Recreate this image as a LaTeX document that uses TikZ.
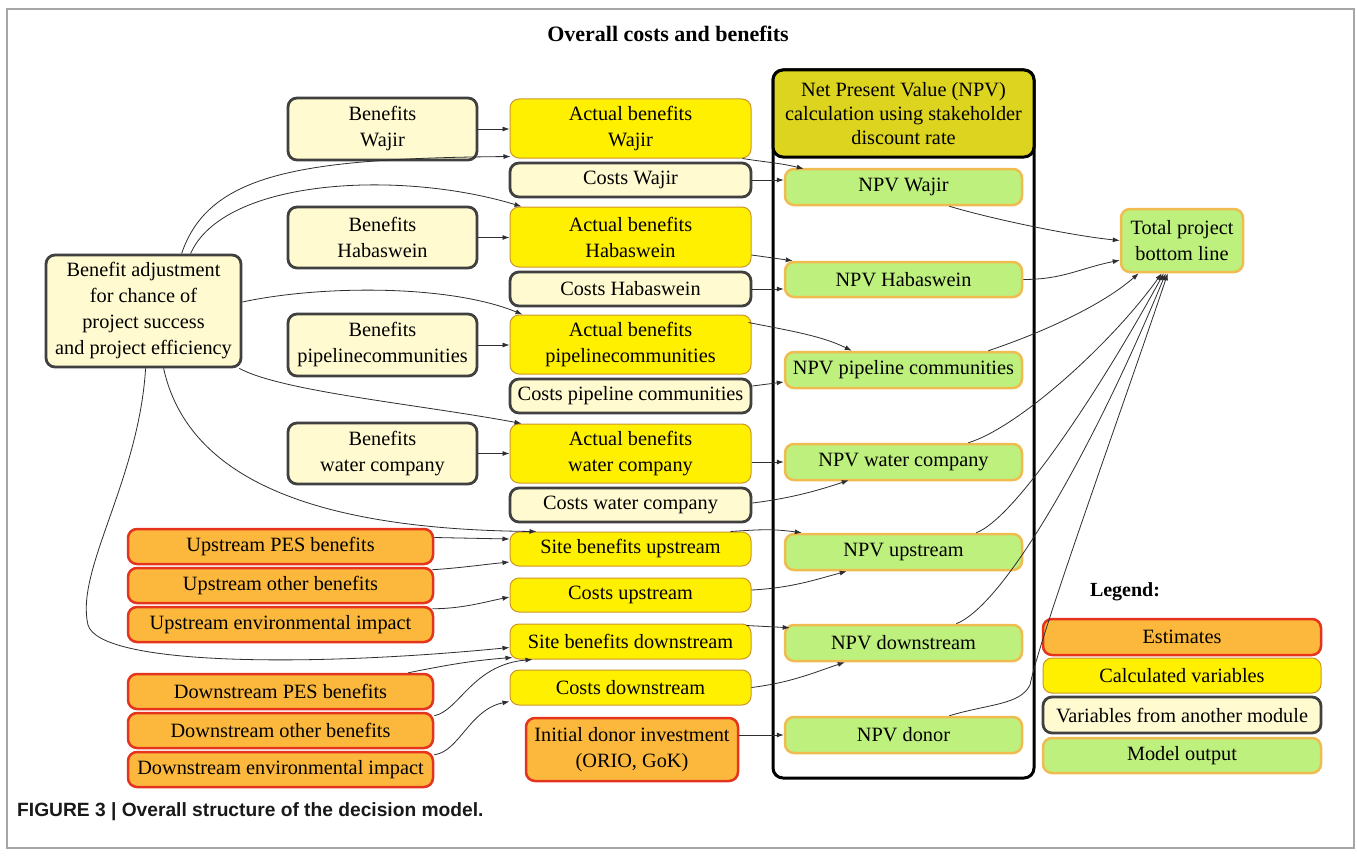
\documentclass[tikz,border=0pt]{standalone}
\usepackage{fontspec}
\setmainfont{Liberation Serif}
\newfontfamily\capfont{Liberation Sans}
\usetikzlibrary{arrows.meta,calc}
\definecolor{estF}{RGB}{252,184,60}
\definecolor{estD}{RGB}{228,52,30}
\definecolor{calcF}{RGB}{255,240,0}
\definecolor{calcD}{RGB}{205,150,40}
\definecolor{modF}{RGB}{255,250,208}
\definecolor{modD}{RGB}{64,64,64}
\definecolor{outF}{RGB}{190,240,125}
\definecolor{outD}{RGB}{240,188,80}
\definecolor{hdrF}{RGB}{220,212,30}
\definecolor{arrC}{RGB}{45,45,50}
\newcommand\bx[7]{\node[#1, minimum width={#5-#3}, minimum height={#6-#4}] (#2) at ({(#3+#5)/2},{(#4+#6)/2}) {#7};}
\begin{document}
\begin{tikzpicture}[x=1pt,y=-1pt,
  base/.style={rectangle, rounded corners=9pt, inner sep=0pt, align=center, font=\fontsize{20.3}{26}\selectfont, text=black},
  est/.style={base, fill=estF, draw=estD, line width=2.5pt},
  calc/.style={base, fill=calcF, draw=calcD, line width=1pt},
  mod/.style={base, fill=modF, draw=modD, line width=2.8pt},
  outp/.style={base, fill=outF, draw=outD, line width=2.5pt},
  hdr/.style={base, fill=hdrF, draw=black, line width=3pt, rounded corners=10pt, font=\fontsize{20.3}{24}\selectfont},
  framebox/.style={rectangle, draw=black, line width=3pt, rounded corners=10pt, inner sep=0pt},
  arr/.style={draw=arrC, line width=0.8pt, -{Latex[length=7pt,width=5pt]}}
]
\useasboundingbox (0,0) rectangle (1357,856);
\fill[white] (0,0) rectangle (1357,856);
\draw[gray!70, line width=1.2pt] (7,9) rectangle (1354,848);

\node[font=\bfseries\fontsize{22}{26}\selectfont] (title) at (668,34) {Overall costs and benefits};

% NPV frame and header
\bx{framebox}{frame}{773}{70}{1034}{778}{}
\bx{hdr}{hdr}{773}{70}{1034}{157}{Net Present Value (NPV)\\calculation using stakeholder\\discount rate}

% column B and C
\bx{mod}{bw}{288}{98}{477}{160}{Benefits\\Wajir}
\bx{calc}{abw}{510}{99}{751}{158}{Actual benefits\\Wajir}
\bx{mod}{cw}{510}{163}{751}{197}{Costs Wajir}
\bx{mod}{bh}{288}{207}{477}{268}{Benefits\\Habaswein}
\bx{calc}{abh}{510}{207}{751}{267}{Actual benefits\\Habaswein}
\bx{mod}{ch}{510}{272}{751}{306}{Costs Habaswein}
\bx{mod}{adj}{46}{255}{241}{367}{Benefit adjustment\\for chance of\\project success\\and project efficiency}
\bx{mod}{bp}{288}{314}{477}{376}{Benefits\\pipelinecommunities}
\bx{calc}{abp}{510}{315}{751}{374}{Actual benefits\\pipelinecommunities}
\bx{mod}{cp}{510}{379}{751}{413}{Costs pipeline communities}
\bx{mod}{bwc}{288}{423}{477}{484}{Benefits\\water company}
\bx{calc}{abwc}{510}{424}{751}{483}{Actual benefits\\water company}
\bx{mod}{cwc}{510}{488}{751}{522}{Costs water company}
\bx{est}{ups}{128}{529}{433}{564}{Upstream PES benefits}
\bx{est}{upo}{128}{568}{433}{603}{Upstream other benefits}
\bx{est}{upe}{128}{607}{433}{642}{Upstream environmental impact}
\bx{calc}{sbu}{510}{532}{751}{566}{Site benefits upstream}
\bx{calc}{cu}{510}{578}{751}{612}{Costs upstream}
\bx{calc}{sbd}{510}{624}{751}{659}{Site benefits downstream}
\bx{est}{dps}{128}{674}{433}{709}{Downstream PES benefits}
\bx{est}{dpo}{128}{713}{433}{748}{Downstream other benefits}
\bx{est}{dpe}{128}{752}{433}{787}{Downstream environmental impact}
\bx{calc}{cd}{510}{670}{751}{705}{Costs downstream}
\bx{est}{don}{526}{718}{738}{781}{Initial donor investment\\(ORIO, GoK)}

% NPV column
\bx{outp}{nw}{785}{169}{1022}{205}{NPV Wajir}
\bx{outp}{nh}{785}{262}{1022}{297}{NPV Habaswein}
\bx{outp}{np}{785}{352}{1022}{388}{NPV pipeline communities}
\bx{outp}{nwc}{785}{444}{1022}{480}{NPV water company}
\bx{outp}{nu}{785}{534}{1022}{570}{NPV upstream}
\bx{outp}{nd}{785}{625}{1022}{661}{NPV downstream}
\bx{outp}{ndon}{785}{717}{1022}{753}{NPV donor}
\bx{outp}{tot}{1121}{209}{1243}{272}{Total project\\bottom line}

% legend
\node[font=\bfseries\fontsize{20}{24}\selectfont] (legt) at (1125,592) {Legend:};
\bx{est}{lest}{1043}{619}{1321}{655}{Estimates}
\bx{calc}{lcalc}{1043}{658}{1321}{693}{Calculated variables}
\bx{mod}{lmod}{1043}{697}{1321}{733}{Variables from another module}
\bx{outp}{lout}{1043}{738}{1321}{773}{Model output}

% caption
\node[anchor=west, inner sep=0pt, text={rgb,255:red,25;green,25;blue,25}, font=\capfont\bfseries\fontsize{19.2}{21}\selectfont] (cap) at (17,812) {FIGURE 3 | Overall structure of the decision model.};

% benefits -> actual benefits
\draw[arr] (bw.east) -- (abw.west |- bw.east);
\draw[arr] (bh.east) -- (abh.west |- bh.east);
\draw[arr] (bp.east) -- (abp.west |- bp.east);
\draw[arr] (bwc.east) -- (abwc.west |- bwc.east);

% benefit adjustment curves
\draw[arr] ($(adj.north west)+(137,0)$) .. controls +(27,-80) and +(-211,2) .. ($(abw.south west)+(1,-2)$);
\draw[arr] ($(adj.north west)+(146,0)$) .. controls +(33,-75) and +(-122,-37) .. ($(abh.north west)+(12,0)$);
\draw[arr] ($(adj.east)+(0,-9)$) .. controls +(79,-17) and +(-73,-30) .. ($(abp.north west)+(13,0)$);
\draw[arr] ($(adj.south east)+(-3,0)$) .. controls +(42,23) and +(-102,-19) .. ($(abwc.north west)+(12,0)$);
\draw[arr] ($(adj.south west)+(119,0)$) .. controls +(25,113) and +(-217,-2) .. ($(sbu.north west)+(27,0)$);
\coordinate (lp) at (88,625);
\draw[arr] ($(adj.south west)+(101,0)$) .. controls +(-7,113) and +(-13,-55) .. (lp) .. controls +(12,40) and +(-205,20) .. ($(sbd.west)+(0,6)$);

% estimates -> calculated
\draw[arr] ($(ups.east)+(0,-9)$) -- ($(sbu.west)+(0,-10)$);
\draw[arr] ($(upo.north east)+(-2,3)$) .. controls +(30,-2) and +(-30,3) .. ($(sbu.west)+(0,13)$);
\draw[arr] ($(upe.north east)+(-2,3)$) .. controls +(30,0) and +(-25,5) .. ($(cu.west)+(0,2)$);
\draw[arr] ($(dps.north east)+(-26,0)$) .. controls +(40,-8) and +(-40,3) .. ($(sbd.south west)+(3,-2)$);
\draw[arr] ($(dpo.north east)+(0,4)$) .. controls +(25,-5) and +(-60,5) .. ($(sbd.south west)+(23,0)$);
\draw[arr] ($(dpe.north east)+(0,4)$) .. controls +(25,-3) and +(-40,8) .. ($(cd.west)+(0,14)$);

% middle -> NPV
\draw[arr] ($(abw.south east)+(-9,0)$) .. controls +(25,4) and +(-25,-6) .. ($(nw.north west)+(20,1)$);
\draw[arr] (cw.east) -- (cw.east -| nw.west);
\draw[arr] ($(abh.east)+(0,18)$) -- ($(nh.north west)+(9,0)$);
\draw[arr] (ch.east) -- (ch.east -| nh.west);
\draw[arr] ($(abp.north east)+(-3,8)$) .. controls +(40,8) and +(-30,-15) .. ($(np.north west)+(68,0)$);
\draw[arr] ($(cp.east)+(0,-10)$) -- ($(np.west)+(0,12)$);
\draw[arr] (abwc.east |- nwc.west) -- (nwc.west);
\draw[arr] ($(cwc.east)+(0,-2)$) .. controls +(40,-5) and +(-30,10) .. ($(nwc.south west)+(65,-1)$);
\draw[arr] ($(sbu.north east)+(-21,0)$) .. controls +(30,-2) and +(-30,-4) .. ($(nu.north west)+(18,0)$);
\draw[arr] ($(cu.east)+(0,-5)$) .. controls +(40,-2) and +(-30,8) .. ($(nu.south west)+(63,0)$);
\draw[arr] ($(sbd.north east)+(-5,2)$) -- ($(nd.north west)+(6,4)$);
\draw[arr] (cd.east) .. controls +(40,-5) and +(-30,10) .. ($(nd.south west)+(61,0)$);
\draw[arr] (don.east |- ndon.west) -- (ndon.west);

% NPV -> total
\draw[arr] ($(nw.south east)+(-74,0)$) .. controls +(40,12) and +(-50,-5) .. (tot.west);
\draw[arr] (nh.east) .. controls +(40,0) and +(-40,8) .. ($(tot.south west)+(0,-13)$);
\draw[arr] ($(np.north east)+(-35,0)$) .. controls +(45,-15) and +(-40,35) .. ($(tot.south west)+(19,0)$);
\draw[arr] ($(nwc.north east)+(-55,0)$) .. controls +(50,-15) and +(-50,70) .. ($(tot.south west)+(42,0)$);
\draw[arr] ($(nu.north east)+(-47,0)$) .. controls +(40,-15) and +(-60,110) .. ($(tot.south west)+(44,0)$);
\draw[arr] ($(nd.north east)+(-67,0)$) .. controls +(50,-20) and +(-70,170) .. ($(tot.south west)+(46,0)$);
\coordinate (dk) at (1030,685);
\draw[arr] ($(ndon.north east)+(-74,0)$) .. controls +(40,-12) and +(-10,20) .. (dk) .. controls +(10,-50) and +(-40,120) .. ($(tot.south west)+(48,0)$);
\end{tikzpicture}
\end{document}
